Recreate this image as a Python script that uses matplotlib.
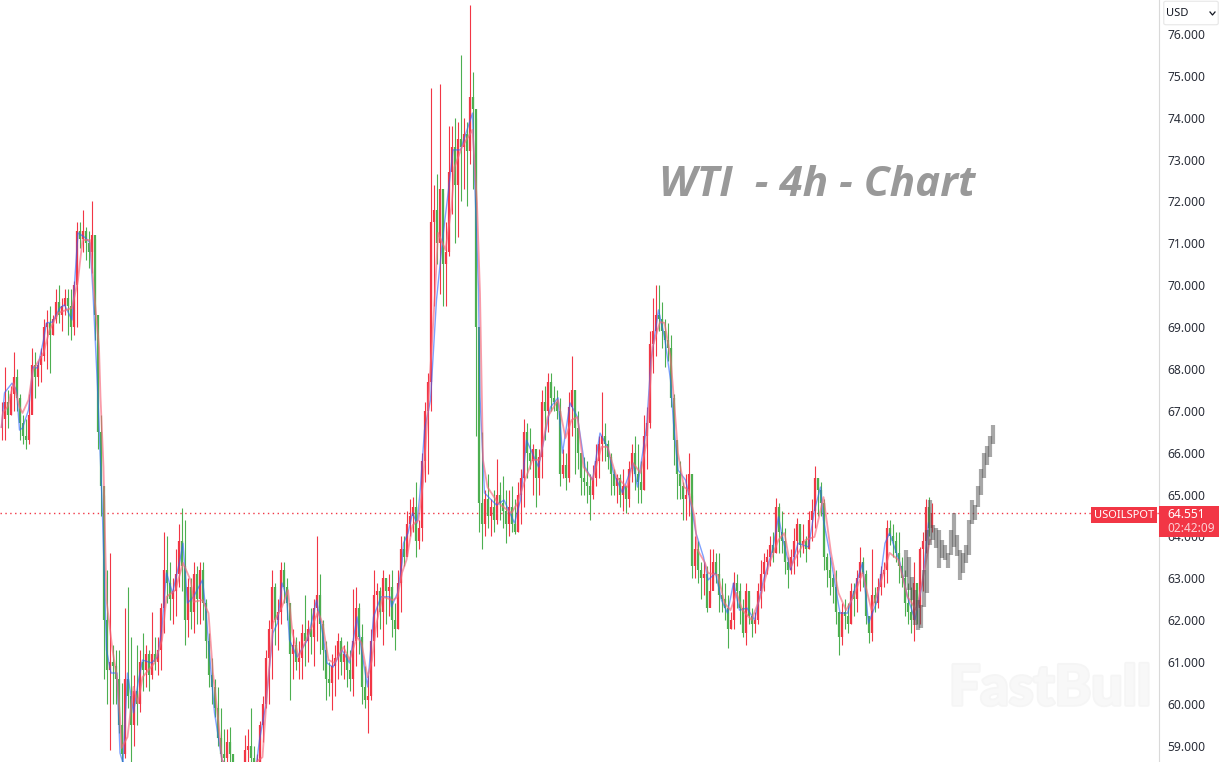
import numpy as np
import matplotlib
matplotlib.use("Agg")
import matplotlib.pyplot as plt
import matplotlib.patheffects as pe
from matplotlib.patches import Rectangle, FancyBboxPatch
from matplotlib.lines import Line2D

# 4h candles (opens are the previous close)
highs = [
    67.2,68.05,67.5,67.6,68.4,68.0,67.4,66.9,66.8,67.4,
    68.5,68.4,68.2,68.5,69.2,69.4,69.5,69.3,69.9,70.0,
    69.7,69.9,69.9,69.9,70.1,71.5,71.5,71.8,71.4,71.3,
    72.0,71.1,68.8,66.9,65.0,63.2,63.6,61.4,61.3,61.3,
    60.5,62.3,62.8,61.6,60.7,61.4,61.3,61.7,61.4,61.3,
    62.2,61.6,61.6,62.4,64.1,64.0,63.4,63.0,63.7,64.3,
    64.67,64.4,63.0,63.0,63.4,63.3,63.4,63.4,62.5,61.7,
    61.1,60.6,60.4,59.9,59.4,59.4,59.45,58.4,58.4,58.3,
    58.5,59.25,59.4,59.9,59.0,58.8,59.6,60.2,61.3,62.0,
    63.2,62.9,62.5,63.4,63.4,63.0,62.3,61.8,61.6,61.5,
    61.9,62.6,62.0,62.3,62.5,64.0,63.1,62.0,61.5,61.0,
    61.2,61.4,61.7,61.6,61.4,61.5,61.3,62.75,62.8,62.4,
    61.9,60.9,60.7,61.8,63.2,62.9,62.8,63.2,63.0,63.1,
    63.2,62.4,63.2,64.0,64.0,64.6,64.9,64.95,65.3,64.4,
    66.0,67.2,67.9,74.7,72.4,72.65,74.8,72.2,71.5,73.8,
    73.8,74.0,73.9,75.5,74.0,73.9,76.7,75.1,74.0,68.6,
    66.5,65.1,65.5,64.9,65.1,65.85,65.3,65.45,65.1,65.1,
    65.2,64.9,65.3,65.6,66.8,66.7,66.6,66.2,65.9,66.1,
    67.5,67.6,67.9,67.9,67.6,67.5,67.3,66.1,66.0,67.45,
    68.3,67.5,67.0,66.0,65.9,65.8,65.5,65.7,66.2,66.4,
    67.45,66.7,66.3,66.0,65.6,65.5,65.5,65.6,65.2,65.8,
    66.2,66.4,66.2,65.8,66.9,67.1,68.9,69.7,70.0,70.0,
    69.6,69.2,69.1,68.8,67.4,66.0,65.8,65.3,65.5,66.0,
    65.0,64.0,63.9,63.4,63.4,63.3,63.7,63.7,63.6,63.6,
    63.0,62.9,62.6,62.2,63.15,63.1,62.9,62.5,62.9,62.6,
    62.3,62.2,62.9,63.44,63.6,63.7,64.0,64.1,64.93,64.8,
    64.6,64.2,63.5,63.7,64.2,64.45,64.1,64.3,64.0,64.6,
    64.9,65.68,65.4,65.3,64.9,63.6,63.5,63.1,63.2,62.0,
    62.4,62.5,62.4,62.9,62.9,63.2,63.75,63.5,63.2,62.0,
    63.7,62.8,63.0,63.3,63.4,64.4,64.4,64.3,64.1,64.1,
    63.5,63.2,62.9,62.8,63.4,62.8,63.75,64.1,64.9,64.95,64.8,
]
lows = [
    66.3,66.3,66.6,66.9,67.0,67.0,66.3,66.2,66.1,66.2,
    67.0,67.3,67.6,67.7,68.2,68.0,67.9,68.8,69.1,69.1,
    68.9,69.3,68.8,68.7,68.8,69.0,70.9,70.8,70.6,70.4,
    70.3,68.7,66.1,64.5,60.6,60.0,58.9,60.0,60.0,59.3,
    58.6,58.7,59.9,58.6,59.0,59.5,59.8,60.3,60.4,60.3,
    60.6,60.8,60.7,60.8,61.7,62.4,62.0,61.9,62.1,62.8,
    62.7,61.4,61.6,61.8,61.7,61.9,61.9,62.0,61.1,60.4,
    60.0,59.7,59.0,58.6,58.5,58.5,58.6,57.9,57.7,57.8,
    57.9,58.2,58.4,58.5,58.3,58.2,58.5,59.1,59.9,60.0,
    60.6,61.4,61.3,61.9,62.4,62.0,60.1,60.6,60.8,60.6,
    60.6,60.9,61.0,61.2,60.9,61.5,61.2,60.8,60.1,60.2,
    59.85,60.2,60.6,60.7,60.6,60.4,60.3,60.2,60.9,61.2,
    60.0,59.9,59.3,60.1,60.9,61.6,61.8,61.4,61.9,62.1,
    61.6,61.3,61.8,62.2,63.3,63.6,64.0,64.1,63.5,63.7,
    63.9,65.3,65.5,67.0,69.5,70.5,69.8,69.5,69.5,70.7,
    71.7,71.0,71.15,72.0,72.3,71.9,72.9,72.3,66.4,64.1,
    63.7,64.0,64.2,64.0,64.1,64.3,64.4,64.2,63.85,64.0,
    64.1,64.05,64.1,64.3,64.7,65.4,65.6,65.0,64.7,65.0,
    65.4,66.3,66.5,67.0,67.0,66.8,65.2,65.4,65.1,65.3,
    66.4,65.5,65.6,65.0,65.0,64.8,64.4,64.9,65.2,65.4,
    65.8,65.8,65.6,65.0,65.0,64.8,64.7,64.6,64.56,64.7,
    65.3,65.1,64.8,64.8,65.1,65.6,66.6,67.9,68.3,68.9,
    68.5,68.05,68.2,67.1,65.7,64.9,64.9,64.4,64.4,64.5,
    63.0,63.0,62.9,62.5,62.6,62.2,62.4,62.9,62.9,62.2,
    62.2,62.0,61.34,61.8,61.8,62.3,61.9,61.6,61.4,61.9,
    61.6,61.7,61.9,62.3,62.7,63.1,63.3,63.4,63.6,63.6,
    63.6,63.1,62.77,63.1,63.1,63.3,63.5,63.6,63.4,63.7,
    63.9,64.2,64.5,64.5,63.2,62.8,62.6,62.4,61.9,61.17,
    61.4,61.8,61.7,61.9,62.1,62.2,62.7,62.8,61.9,61.45,
    61.5,62.2,62.3,62.6,62.8,62.9,63.8,63.5,63.4,62.9,
    62.8,62.1,61.9,61.7,61.5,61.9,61.9,62.7,63.6,64.0,64.1,
]
closes = [
    66.8,67.2,66.9,67.4,67.8,67.3,66.7,66.4,66.3,66.9,
    68.1,67.8,68.1,68.3,69.0,69.1,68.8,69.2,69.6,69.3,
    69.5,69.7,69.5,69.0,70.0,71.3,71.1,71.3,71.0,70.8,
    71.2,69.3,66.5,65.2,62.0,60.8,61.0,60.9,60.6,59.5,
    58.8,60.6,60.2,59.5,60.3,60.0,61.0,60.8,61.2,60.7,
    61.2,61.0,61.3,62.3,63.2,62.9,62.5,62.7,63.1,63.9,
    63.3,62.0,62.8,62.2,63.1,62.5,63.2,62.4,61.5,60.7,
    60.4,59.9,59.2,58.8,58.7,59.1,58.8,58.2,58.0,58.1,
    58.3,58.9,59.0,58.7,58.5,58.6,59.5,60.0,61.1,61.8,
    62.8,62.0,62.2,63.2,62.8,62.4,61.2,61.4,61.0,61.1,
    61.7,61.5,61.8,61.6,62.3,62.6,61.9,61.3,60.6,60.5,
    60.9,61.1,61.5,61.0,61.2,60.8,60.6,61.5,62.3,61.6,
    60.4,60.1,60.2,61.5,62.6,62.7,62.2,63.0,62.7,62.8,
    62.0,61.8,62.9,63.7,63.5,64.3,64.5,64.7,63.9,64.2,
    65.8,67.0,67.7,71.5,71.8,71.0,72.3,70.5,70.8,72.7,
    73.3,72.4,73.5,73.3,73.6,73.2,74.5,74.2,69.0,64.8,
    64.3,64.9,64.5,64.7,64.4,65.0,64.8,64.6,64.3,64.7,
    64.3,64.1,65.0,65.4,66.5,66.0,65.8,66.1,65.4,65.9,
    67.2,67.0,67.7,67.3,67.2,67.0,65.5,65.7,65.4,67.1,
    67.5,66.6,66.0,65.4,65.3,65.2,65.0,65.4,65.8,66.2,
    66.4,66.2,65.9,65.5,65.2,65.4,65.0,65.2,64.9,65.6,
    66.0,65.5,65.3,65.1,66.4,66.7,68.6,68.9,69.3,69.2,
    68.9,68.7,68.5,67.3,66.3,65.5,65.2,64.9,65.0,65.5,
    63.3,63.7,63.2,63.0,63.1,62.3,62.7,63.4,63.1,62.6,
    62.5,62.3,61.8,62.0,62.9,62.7,62.3,61.7,62.7,62.1,
    61.9,62.0,62.7,63.1,63.4,63.5,63.8,63.6,64.7,64.1,
    63.9,63.4,63.2,63.5,63.9,64.3,63.8,63.9,63.7,64.4,
    64.6,65.4,65.1,64.8,63.5,63.2,63.0,62.8,62.2,61.6,
    62.2,62.1,61.9,62.7,62.5,63.0,63.4,63.1,62.1,61.7,
    62.6,62.4,62.8,63.1,63.2,64.2,64.0,63.9,63.6,63.3,
    63.0,62.4,62.2,62.0,62.9,62.3,63.7,63.9,64.7,64.2,64.551,
]

# fast average (blue): bar number and price
blue_bars = [0,1,3.5,5,6,7,9,10.5,12,14,15,17,19.5,21,23.5,25.5,28,29.5,30.5,32,33,33.5,34.5,35,36.5,38.5,39.5,40.5,42,44,
    45.5,47,50,52,53.5,55,57,59.5,60.5,62,64,67,68,69.5,71,73.5,78,83,85,86,88,89,90.5,92,93.5,95,96,98.5,102,105,
    107,108.5,110.5,113.5,116,118.5,120,122,124,126.5,129.5,130,132,133.5,134,135.5,137,138.5,139.5,141,143,145,147,149.5,150.5,153,157,157.5,159,159.5,
    161,165,167.5,171,173,175,177.5,179,183,185.5,187,189.5,192,194.5,197,199.5,202,204,207,210.5,212,215,216.5,219,221,223,224,225.5,228,230,
    231.5,234,235.5,238,240,242,244,246,248.5,251,254,257,259,260.5,263,265.5,269,271,273,274,276.5,279.5,282,287,289,292,294.5,296,299.5,302,304.5,307,309]
blue_vals = [66.61,67.43,67.66,67.50,66.54,66.59,67.02,68.05,68.02,68.69,69.10,69.12,69.46,69.53,69.17,71.25,71.13,71.01,69.81,67.57,65.75,64.87,62.48,61.29,60.74,60.74,58.83,58.59,60.74,59.79,
    60.50,61.05,60.98,61.12,61.84,63.13,62.65,63.44,63.84,62.41,62.56,62.96,62.32,61.05,59.79,58.66,58.3,58.3,58.59,59.14,59.93,60.64,61.70,61.93,62.89,62.56,61.53,61.12,61.53,62.48,
    61.70,60.98,60.88,61.29,60.98,62.08,61.29,60.41,62.08,62.56,62.56,62.32,62.65,63.37,63.84,64.08,64.56,64.32,65.04,66.54,67.26,69.65,71.08,72.58,73.23,73.23,74.11,73.0,69.89,67.33,
    65.04,64.75,64.87,64.32,64.87,66.30,65.90,65.66,67.09,67.31,65.99,67.19,66.85,65.66,65.35,66.47,66.14,65.52,65.04,65.75,65.18,66.61,68.21,69.41,68.76,67.74,66.71,65.59,65.35,64.70,
    64.08,63.51,62.96,63.13,62.48,62.17,62.89,62.24,62.29,62.01,62.96,63.68,64.47,63.92,63.20,63.84,63.75,64.63,65.18,64.39,63.44,62.17,62.17,63.37,61.93,62.48,63.84,64.08,63.37,62.56,62.01,62.89,64.32]

# slow average (red)
red_bars = [0,.5,2,4,6,7,9,10.5,14,16,19,23.5,25.5,27,29.5,31,32.5,33,34,35,37,38.5,39.5,40,42,44,45.5,47,51,53.5,
    55,58,60.5,63,64,67,69,70.5,72,73.5,78,83,85,87,88.5,90.5,93.5,95.5,97,99,102,105.5,107,109,111,114,116,118.5,120,122,
    123.5,125,127,130.5,132,133.5,135,137,139,140.5,142,144.5,145.5,148,150,151,153.5,157,158.5,159.5,160.5,162,165.5,170,172,174.5,177,179.5,182,185.5,
    188,190,192,194,197,200,202,205,208.5,210.5,213,215,217,219.5,221,223,224.5,225.5,227.5,229,231,232,234.5,235.5,238.8,241,243,245,247,250,
    253,256,259,261,263,268,271,274,276.5,279,281.5,284,287,290,292,296,299,302,305,307,309.5]
red_vals = [66.61,66.97,67.09,67.66,67.09,66.95,67.26,67.98,68.38,68.93,69.34,69.46,70.12,71.08,71.08,69.72,68.52,67.33,65.66,62.48,61.29,60.64,59.69,58.95,59.21,60.41,60.02,60.64,60.98,61.53,
    62.56,62.72,63.37,62.96,62.44,62.48,62.17,60.74,59.79,58.66,58.3,58.3,58.62,58.73,60.26,61.93,62.32,62.72,61.70,61.12,61.60,62.20,61.93,61.05,60.98,61.36,61.05,61.60,61.46,60.64,
    61.05,61.93,62.56,62.48,62.56,63.13,63.44,64.27,64.39,65.28,66.85,69.81,71.25,70.84,71.87,72.82,73.30,73.71,71.96,69.81,65.83,65.18,64.80,64.56,64.80,65.35,65.83,65.83,66.85,67.26,
    66.35,66.78,66.85,65.66,65.35,66.14,66.14,65.42,65.18,65.75,65.52,66.23,68.52,69.12,69.10,68.29,66.95,65.99,65.18,65.11,64.47,63.68,63.37,63.13,63.08,62.41,62.24,62.65,62.24,62.01,
    62.56,63.37,63.92,64.08,63.27,63.92,63.99,64.94,63.61,62.65,62.24,62.56,63.13,62.24,62.65,63.61,63.44,62.56,62.24,62.96,63.92]

# grey projected path
ghost_bars = [301.5,302.5,303.5,304.5,305.5,306.5,307.5,308.5,309.5,310.5,311.5,312.5,313.5,314.5,315.5,316.5,
    317.5,318.5,319.5,320.5,321.5,322.5,323.5,324.5,325.5,326.5,327.5,328.5,329.5,330.5]
ghost_high = [63.68,63.51,63.03,62.72,62.48,62.36,63.2,64.15,64.87,64.27,64.2,64.15,63.92,63.8,63.6,64.15,
    64.56,64.04,63.68,63.6,63.8,64.39,64.87,64.75,65.2,65.6,66.0,66.15,66.4,66.66]
ghost_low = [63.03,62.72,62.48,61.89,61.77,61.81,62.32,62.65,63.8,63.92,63.72,63.25,63.49,63.44,63.25,63.56,
    63.75,63.53,62.96,63.13,63.37,63.56,64.3,64.4,64.7,65.0,65.4,65.7,65.9,66.2]

y_ticks = list(range(59, 77))
last_price = 64.551

W, H = 1221, 762
RED = "#f23645"
GREEN = "#4caf50"

def fx(x):
    return x / W

def fy(y):
    return 1 - y / H

plt.rcParams["font.family"] = ["Noto Sans", "DejaVu Sans"]

fig = plt.figure(figsize=(W / 100, H / 100), dpi=100, facecolor="white")
ax = fig.add_axes([0, 0, 1159 / W, 1])

bars = np.arange(len(closes))
opens = np.r_[closes[0], closes[:-1]]
cl = np.array(closes)
colors = [RED if c >= o else GREEN for o, c in zip(opens, cl)]

ax.vlines(bars, lows, highs, colors=colors, lw=0.8, zorder=2)
ax.vlines(bars, np.minimum(opens, cl), np.maximum(opens, cl), colors=colors, lw=1.6, zorder=2)
ax.plot(blue_bars, blue_vals, color="#2962ff", lw=1.0, alpha=0.6, zorder=3)
ax.plot(red_bars, red_vals, color="#f7667a", lw=1.3, alpha=0.65, zorder=3)
ax.vlines(ghost_bars, ghost_low, ghost_high, colors="#505050", lw=3.0, alpha=0.5, zorder=4)

ax.axhline(last_price, color=RED, lw=1, ls=(0, (1, 2.5)), zorder=1)

# 1159 px wide, first bar at 1.5 px, 3 px per bar
ax.set_xlim(-0.5, (1159 - 1.5) / 3)
ax.set_ylim(76.81 - H / 41.88, 76.81)

ax.set_xticks([])
ax.yaxis.tick_right()
ax.set_yticks(y_ticks)
ax.set_yticklabels(["%.3f" % v for v in y_ticks], fontsize=8.7, color="#2a2e39")
ax.tick_params(axis="y", length=0, pad=6)
for s in ["top", "left", "bottom"]:
    ax.spines[s].set_visible(False)
ax.spines["right"].set_color("#d9d9d9")

# watermark and title
fig.text(fx(949), fy(705), "FastBull", fontsize=40, fontweight="black", color="#f8f8f8", family="Lato", zorder=0.5,
    path_effects=[pe.withStroke(linewidth=2.5, foreground="#f5f5f5")])
fig.text(fx(659), fy(196), "WTI  - 4h - Chart", fontsize=30.4, fontweight="bold", style="italic", color="#999999", family="Open Sans")

# price labels on the axis
fig.add_artist(Rectangle((fx(1091), fy(523)), 66 / W, 16 / H, transform=fig.transFigure, fc=RED, ec="none", zorder=5))
fig.text(fx(1124), fy(515), "USOILSPOT", color="white", fontsize=8, fontweight="medium", ha="center", va="center", zorder=6)
fig.add_artist(Rectangle((fx(1159), fy(537)), 60 / W, 31 / H, transform=fig.transFigure, fc=RED, ec="none", zorder=5))
fig.text(fx(1167), fy(514.5), "64.551", color="white", fontsize=8.7, fontweight="bold", va="center", zorder=6)
fig.text(fx(1167), fy(529), "02:42:09", color="#fbd0d4", fontsize=8.5, va="center", zorder=6)

# currency selector
fig.add_artist(FancyBboxPatch((fx(1165), fy(24)), 52 / W, 22 / H, transform=fig.transFigure,
    boxstyle="round,pad=0.001,rounding_size=0.002", fc="white", ec="#e6e6e6", lw=0.8, zorder=5))
fig.text(fx(1166), fy(13), "USD", color="#131722", fontsize=8, va="center", zorder=6)
fig.add_artist(Line2D([fx(1210), fx(1212.5), fx(1215)], [fy(12), fy(15), fy(12)], transform=fig.transFigure,
    color="#131722", lw=0.9, zorder=6))

fig.savefig("out.png", dpi=100)
